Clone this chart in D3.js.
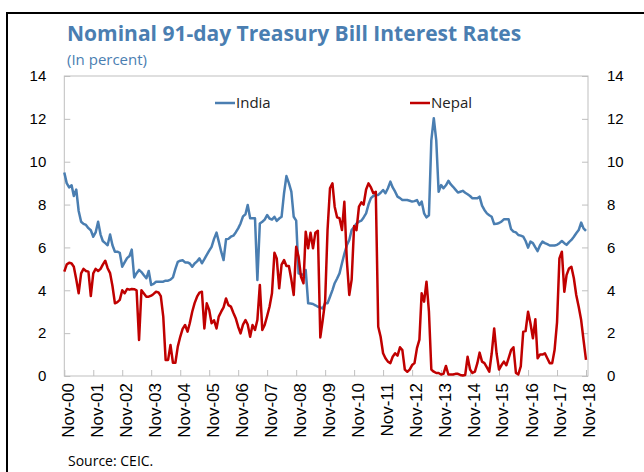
<!DOCTYPE html>
<html>
<head>
<meta charset="utf-8">
<script src="https://cdn.jsdelivr.net/npm/d3@7"></script>
<style>
  body { margin: 0; background: #fff; }
  svg text { font-family: "Liberation Sans", Arial, sans-serif; }
</style>
</head>
<body>
<svg id="chart" width="644" height="472"></svg>
<script>
// monthly values, Nov-00 .. Nov-18
const months = d3.timeMonth.range(new Date(2000, 10, 1), new Date(2018, 11, 1));

const india = [
  9.5, 9.0, 8.8, 8.9, 8.4, 8.7, 7.7, 7.2, 7.1, 7.05, 6.9, 6.8,
  6.5, 6.7, 7.2, 6.6, 6.3, 6.2, 6.1, 6.6, 6.1, 5.8, 5.8, 5.75,
  5.1, 5.3, 5.5, 5.6, 5.9, 4.6, 4.8, 4.95, 4.85, 4.7, 4.56, 4.9,
  4.25, 4.3, 4.4, 4.4, 4.4, 4.4, 4.45, 4.45, 4.5, 4.6, 5.0, 5.33,
  5.38, 5.4, 5.3, 5.3, 5.25, 5.1, 5.25, 5.35, 5.49, 5.26, 5.45, 5.65,
  5.85, 6.03, 6.4, 6.69, 6.28, 5.8, 5.41, 6.38, 6.4, 6.5, 6.55, 6.7,
  6.89, 7.12, 7.45, 7.55, 7.98, 7.36, 7.36, 7.36, 4.48, 7.12, 7.2, 7.3,
  7.51, 7.35, 7.3, 7.43, 7.24, 7.35, 7.43, 8.53, 9.33, 9.0, 8.6, 7.43,
  7.25, 4.79, 4.75, 4.72, 4.95, 3.39, 3.38, 3.36, 3.3, 3.23, 3.2, 3.15,
  3.39, 3.39, 3.7, 4.01, 4.33, 4.55, 4.79, 5.26, 5.7, 6.1, 6.35, 6.81,
  6.95, 7.12, 7.2, 7.25, 7.4, 7.59, 8.0, 8.3, 8.4, 8.45, 8.45, 8.55,
  8.68, 8.53, 8.76, 9.07, 8.8, 8.6, 8.37, 8.3, 8.21, 8.21, 8.21, 8.18,
  8.14, 8.16, 8.21, 7.98, 8.14, 7.59, 7.4, 7.5, 11.0, 12.03, 11.0, 8.6,
  8.91, 8.76, 8.9, 9.11, 8.95, 8.83, 8.7, 8.56, 8.6, 8.64, 8.55, 8.48,
  8.4, 8.29, 8.29, 8.29, 8.37, 7.95, 7.75, 7.59, 7.5, 7.43, 7.09, 7.1,
  7.14, 7.2, 7.31, 7.31, 7.31, 6.85, 6.74, 6.7, 6.58, 6.55, 6.5, 6.3,
  5.99, 6.27, 6.2, 6.0, 5.83, 6.1, 6.27, 6.2, 6.15, 6.09, 6.09, 6.09,
  6.12, 6.2, 6.3, 6.2, 6.12, 6.25, 6.35, 6.5, 6.66, 6.81, 7.16, 6.89,
  6.77
];

const nepal = [
  4.87, 5.2, 5.29, 5.25, 5.1, 4.5, 3.86, 4.79, 5.0, 4.9, 4.87, 3.73,
  4.79, 5.0, 4.9, 5.0, 5.2, 5.38, 5.03, 4.8, 4.2, 3.39, 3.45, 3.55,
  4.0, 3.86, 4.06, 4.03, 4.06, 4.05, 4.0, 1.68, 4.0, 3.85, 3.7, 3.7,
  3.75, 3.83, 3.93, 3.9, 3.73, 2.77, 0.75, 0.75, 1.45, 0.62, 0.62, 1.37,
  1.83, 2.2, 2.38, 2.07, 2.46, 3.0, 3.4, 3.7, 3.89, 3.93, 2.22, 3.39,
  3.08, 2.46, 2.6, 2.22, 2.77, 3.0, 3.2, 3.62, 3.31, 3.24, 2.95, 2.7,
  2.3, 1.99, 2.4, 2.61, 2.4, 1.83, 2.38, 2.15, 2.61, 4.25, 2.15, 2.38,
  2.8, 3.23, 3.86, 5.75, 5.49, 4.09, 5.2, 5.41, 5.13, 5.13, 4.5, 3.78,
  6.03, 5.57, 4.63, 4.33, 6.73, 5.96, 6.69, 5.96, 6.69, 6.78, 1.8, 2.6,
  3.5, 6.8, 8.76, 8.99, 7.9, 7.4, 7.36, 6.81, 8.13, 5.41, 3.78, 4.5,
  7.0, 6.81, 7.9, 8.1, 8.0, 8.7, 8.99, 8.8, 8.53, 8.6, 2.3, 1.83,
  1.06, 0.83, 0.67, 0.6, 0.9, 1.06, 0.95, 1.34, 1.21, 0.3, 0.2, 0.3,
  0.51, 0.6, 1.3, 1.7, 3.86, 3.47, 4.4, 3.0, 0.3, 0.2, 0.14, 0.14,
  0.07, 0.1, 0.47, 0.07, 0.07, 0.07, 0.1, 0.1, 0.05, 0.02, 0.05, 0.9,
  0.3, 0.14, 0.2, 0.6, 1.09, 0.67, 0.6, 0.4, 0.2, 1.06, 2.22, 1.06,
  0.3, 0.5, 0.67, 0.5, 0.83, 1.21, 1.34, 0.14, 0.07, 0.45, 2.07, 2.1,
  3.0, 2.46, 1.76, 2.65, 0.83, 1.0, 1.0, 1.06, 0.83, 0.6, 0.6, 1.21,
  2.5, 5.49, 5.8, 3.93, 4.71, 5.02, 5.1, 4.56, 3.78, 3.23, 2.61, 1.68,
  0.75
];

const yTicks = [0, 2, 4, 6, 8, 10, 12, 14];
const xTicks = d3.timeYear.range(new Date(2000, 0, 1), new Date(2019, 0, 1)).map(d => new Date(d.getFullYear(), 10, 1));

const blue = '#4a7eb1';
const red = '#c00000';

const svg = d3.select('#chart');
const plotLeft = 64.3, plotRight = 588, plotTop = 76, plotBottom = 376;

const x = d3.scaleTime()
  .domain([new Date(2000, 10, 1), new Date(2018, 10, 1)])
  .range([plotLeft, 586]);
const y = d3.scaleLinear().domain([0, 14]).range([plotBottom, plotTop]);

// outer frame
svg.append('rect')
  .attr('x', 7).attr('y', 13)
  .attr('width', 700).attr('height', 500)
  .style('fill', 'none').style('stroke', '#000').style('stroke-width', 2);

svg.append('text')
  .attr('x', 67).attr('y', 41)
  .style('font-family', '"Open Sans"').style('font-weight', 700)
  .style('font-size', '21px').style('fill', blue)
  .text('Nominal 91-day Treasury Bill Interest Rates');

svg.append('text')
  .attr('x', 67).attr('y', 65)
  .style('font-family', '"Open Sans"').style('font-size', '15px').style('fill', blue)
  .text('(In percent)');

// plot border
svg.append('rect')
  .attr('x', plotLeft).attr('y', plotTop)
  .attr('width', plotRight - plotLeft).attr('height', plotBottom - plotTop)
  .style('fill', 'none').style('stroke', '#bfbfbf');

const styleAxis = g => {
  g.select('.domain').remove();
  g.selectAll('.tick line').style('stroke', '#bfbfbf');
  g.selectAll('text').style('font-family', '"Liberation Sans", Arial').style('font-size', '15px').style('fill', '#000');
};

svg.append('g')
  .attr('transform', `translate(${plotLeft},0)`)
  .call(d3.axisLeft(y).tickValues(yTicks).tickSize(-6).tickPadding(18))
  .call(styleAxis);

svg.append('g')
  .attr('transform', `translate(${plotRight},0)`)
  .call(d3.axisRight(y).tickValues(yTicks).tickSize(-6).tickPadding(19))
  .call(styleAxis);

svg.append('g')
  .attr('transform', `translate(0,${plotBottom})`)
  .call(d3.axisBottom(x).tickValues(xTicks).tickFormat(d3.timeFormat('%b-%y')).tickSize(-6))
  .call(styleAxis)
  .selectAll('text')
  .attr('transform', 'rotate(-90)')
  .attr('x', -7).attr('y', 3).attr('dy', '0.35em')
  .style('font-size', '17px')
  .style('text-anchor', 'end');

const line = d3.line()
  .x((d, i) => x(months[i]))
  .y(d => y(d));

svg.append('path')
  .datum(india)
  .attr('d', line)
  .style('fill', 'none').style('stroke', blue)
  .style('stroke-width', 2.5).style('stroke-linejoin', 'round');

svg.append('path')
  .datum(nepal)
  .attr('d', line)
  .style('fill', 'none').style('stroke', red)
  .style('stroke-width', 2.5).style('stroke-linejoin', 'round');

// legend
const legend = [{ name: 'India', color: blue, x: 215 }, { name: 'Nepal', color: red, x: 410 }];
legend.forEach(l => {
  svg.append('line')
    .attr('x1', l.x).attr('x2', l.x + 20)
    .attr('y1', 103).attr('y2', 103)
    .style('stroke', l.color).style('stroke-width', 2.5);
  svg.append('text')
    .attr('x', l.x + 21).attr('y', 108)
    .style('font-family', '"Open Sans"').style('font-size', '15px').style('fill', '#222')
    .text(l.name);
});

svg.append('text')
  .attr('x', 68).attr('y', 466)
  .style('font-family', '"Open Sans"').style('font-size', '14px').style('fill', '#000')
  .text('Source: CEIC.');
</script>
</body>
</html>
